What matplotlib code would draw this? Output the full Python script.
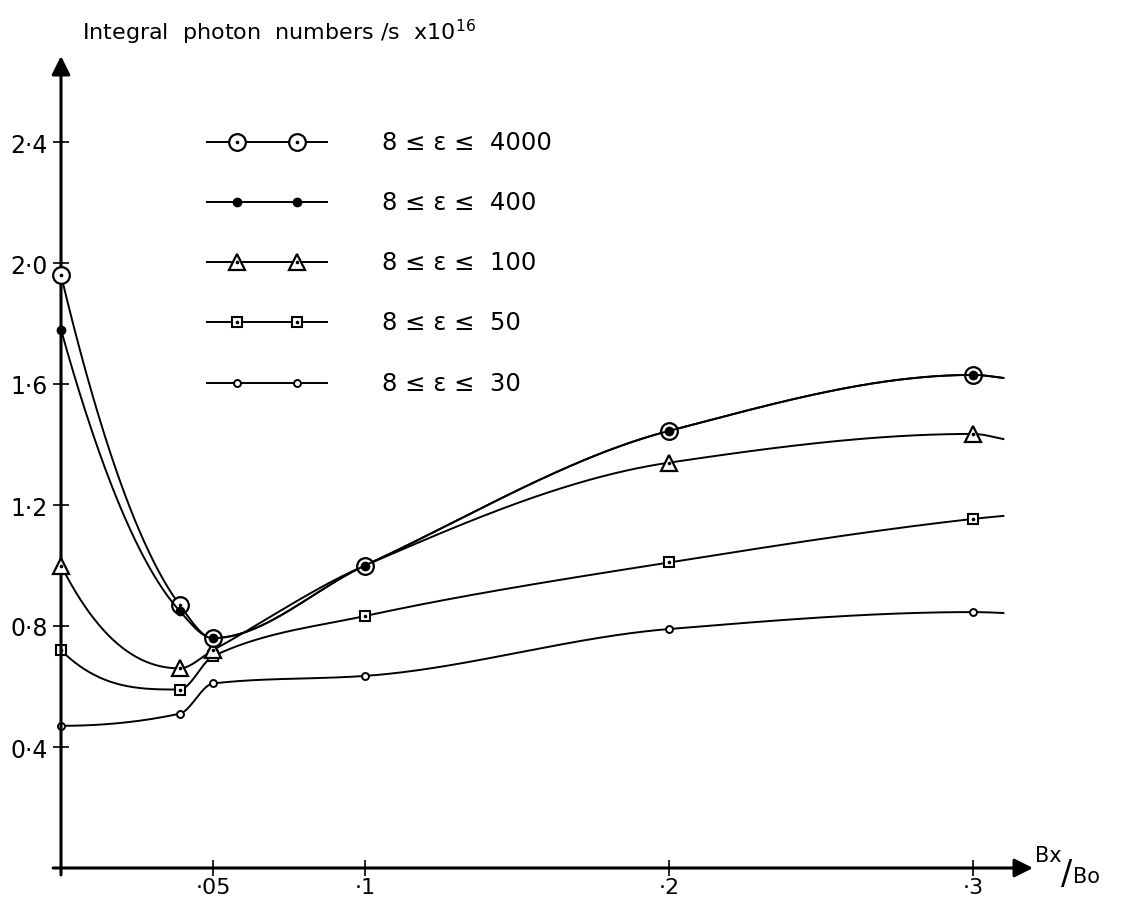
"""
Integral photon numbers versus Bx/Bo - reproduction d'une figure scannee.
Courbes lissees (interpolation PCHIP) passant par les points lus sur la figure.
"""

import numpy as np
import matplotlib
matplotlib.use("Agg")
import matplotlib.pyplot as plt
from matplotlib.lines import Line2D

plt.rcParams["font.family"] = ["DejaVu Sans"]

# --- Donnees ---
bx_bo = [0.0, 0.039, 0.05, 0.1, 0.2, 0.3]
x_fin = 0.31  # les courbes continuent un peu apres le dernier point

n_4000 = [1.96, 0.87, 0.76, 1.00, 1.445, 1.63]
n_400 = [1.78, 0.85, 0.76, 1.00, 1.445, 1.63]
n_100 = [1.00, 0.66, 0.72, 1.00, 1.34, 1.435]
n_50 = [0.72, 0.59, 0.70, 0.833, 1.01, 1.154]
n_30 = [0.47, 0.51, 0.61, 0.635, 0.79, 0.846]
y_fin = [1.62, 1.62, 1.418, 1.164, 0.843]

labels = ["8 ≤ ε ≤  4000", "8 ≤ ε ≤  400", "8 ≤ ε ≤  100",
          "8 ≤ ε ≤  50", "8 ≤ ε ≤  30"]

y_ticks = [0.4, 0.8, 1.2, 1.6, 2.0, 2.4]
y_tick_labels = ["0·4", "0·8", "1·2", "1·6", "2·0", "2·4"]
x_ticks = [0.05, 0.1, 0.2, 0.3]
x_tick_labels = ["·05", "·1", "·2", "·3"]

# --- Styles des marqueurs (ordre des series) ---
styles = [
    dict(marker="o", ms=12, mfc="white", mew=1.6, z=4, dot=True),
    dict(marker="o", ms=6, mfc="black", mew=1.0, z=5, dot=False),
    dict(marker="^", ms=11, mfc="white", mew=1.6, z=3, dot=True),
    dict(marker="s", ms=7, mfc="white", mew=1.5, z=2, dot=True),
    dict(marker="o", ms=5, mfc="white", mew=1.4, z=1, dot=False),
]
# le triangle a .1 est cache sous le cercle
cacher = [[], [], [3], [], []]


def pente_bord(h0, h1, d0, d1):
    m = ((2 * h0 + h1) * d0 - h0 * d1) / (h0 + h1)
    if np.sign(m) != np.sign(d0):
        m = 0.0
    elif np.sign(d0) != np.sign(d1) and abs(m) > 3 * abs(d0):
        m = 3 * d0
    return m


def pchip(x, y, n=600):
    """Interpolation cubique monotone (Fritsch-Carlson)."""
    x = np.asarray(x, float)
    y = np.asarray(y, float)
    h = np.diff(x)
    d = np.diff(y) / h
    m = np.zeros(len(x))
    for k in range(1, len(x) - 1):
        if d[k - 1] * d[k] > 0:
            w1 = 2 * h[k] + h[k - 1]
            w2 = h[k] + 2 * h[k - 1]
            m[k] = (w1 + w2) / (w1 / d[k - 1] + w2 / d[k])
    m[0] = pente_bord(h[0], h[1], d[0], d[1])
    m[-1] = pente_bord(h[-1], h[-2], d[-1], d[-2])
    xs = np.linspace(x[0], x[-1], n)
    i = np.clip(np.searchsorted(x, xs) - 1, 0, len(x) - 2)
    t = (xs - x[i]) / h[i]
    h00 = 2 * t ** 3 - 3 * t ** 2 + 1
    h10 = t ** 3 - 2 * t ** 2 + t
    h01 = -2 * t ** 3 + 3 * t ** 2
    h11 = t ** 3 - t ** 2
    ys = h00 * y[i] + h10 * h[i] * m[i] + h01 * y[i + 1] + h11 * h[i] * m[i + 1]
    return xs, ys


# --- Figure ---
W, H = 1127, 903
fig = plt.figure(figsize=(W / 100, H / 100), dpi=100)

# axes place en pixels : x=0 a 61 px, 3040 px/unite ; y=0 a 869 px, 302.5 px/unite
gauche, droite, bas, haut = 40, 1040, 890, 50
ax = fig.add_axes([gauche / W, 1 - bas / H, (droite - gauche) / W, (bas - haut) / H])
ax.set_xlim((gauche - 61) / 3040, (droite - 61) / 3040)
ax.set_ylim(-(bas - 869) / 302.5, (869 - haut) / 302.5)

series = [n_4000, n_400, n_100, n_50, n_30]
for vals, yf, st, cache in zip(series, y_fin, styles, cacher):
    xs, ys = pchip(bx_bo + [x_fin], vals + [yf])
    ax.plot(xs, ys, color="black", lw=1.4, zorder=st["z"], clip_on=False)
    idx = [i for i in range(len(bx_bo)) if i not in cache]
    px = [bx_bo[i] for i in idx]
    py = [vals[i] for i in idx]
    ax.plot(px, py, ls="none", marker=st["marker"], ms=st["ms"],
            mfc=st["mfc"], mec="black", mew=st["mew"], zorder=st["z"] + 0.5,
            clip_on=False)
    if st["dot"]:
        ax.plot(px, py, ls="none", marker="o", ms=1.6, color="black",
                zorder=st["z"] + 0.6, clip_on=False)

# --- Axes avec fleches ---
for s in ax.spines.values():
    s.set_visible(False)
ax.spines["left"].set_position(("data", 0))
ax.spines["bottom"].set_position(("data", 0))
ax.set_xticks(x_ticks)
ax.set_xticklabels(x_tick_labels, fontsize=16)
ax.set_yticks(y_ticks)
ax.set_yticklabels(y_tick_labels, fontsize=17)
ax.tick_params(direction="inout", length=11, width=1.2)
ax.tick_params(axis="x", pad=1)
ax.tick_params(axis="y", pad=4)
ax.patch.set_visible(False)

ax.annotate("", xy=(0, (869 - 57) / 302.5), xytext=(0, -0.023),
            arrowprops=dict(arrowstyle="-|>", lw=2.2, color="black",
                            mutation_scale=28, shrinkA=0, shrinkB=0),
            annotation_clip=False)
ax.annotate("", xy=((1033 - 61) / 3040, 0), xytext=(-0.0026, 0),
            arrowprops=dict(arrowstyle="-|>", lw=2.2, color="black",
                            mutation_scale=28, shrinkA=0, shrinkB=0),
            annotation_clip=False)

# --- Textes ---
fig.text(82 / W, 1 - 40 / H, "Integral  photon  numbers /s  x10$^{16}$",
         fontsize=16, va="baseline", ha="left")
fig.text(1035 / W, 1 - 862 / H, "Bx", fontsize=15, va="baseline", ha="left")
fig.text(1061 / W, 1 - 884 / H, "/", fontsize=24, va="baseline", ha="left")
fig.text(1073 / W, 1 - 883 / H, "Bo", fontsize=15, va="baseline", ha="left")

# --- Legende dessinee a la main ---
rangs = [143, 203, 263, 323, 384]
for ypx, lab, st in zip(rangs, labels, styles):
    yf = 1 - ypx / H
    fig.add_artist(Line2D([207 / W, 327 / W], [yf, yf], color="black", lw=1.4))
    fig.add_artist(Line2D([237 / W, 297 / W], [yf, yf], ls="none",
                          marker=st["marker"], ms=st["ms"], mfc=st["mfc"],
                          mec="black", mew=st["mew"]))
    if st["dot"]:
        fig.add_artist(Line2D([237 / W, 297 / W], [yf, yf], ls="none",
                              marker="o", ms=1.6, color="black"))
    fig.text(382 / W, yf, lab, fontsize=17.5, va="center", ha="left")

fig.savefig("out.png", dpi=100)
